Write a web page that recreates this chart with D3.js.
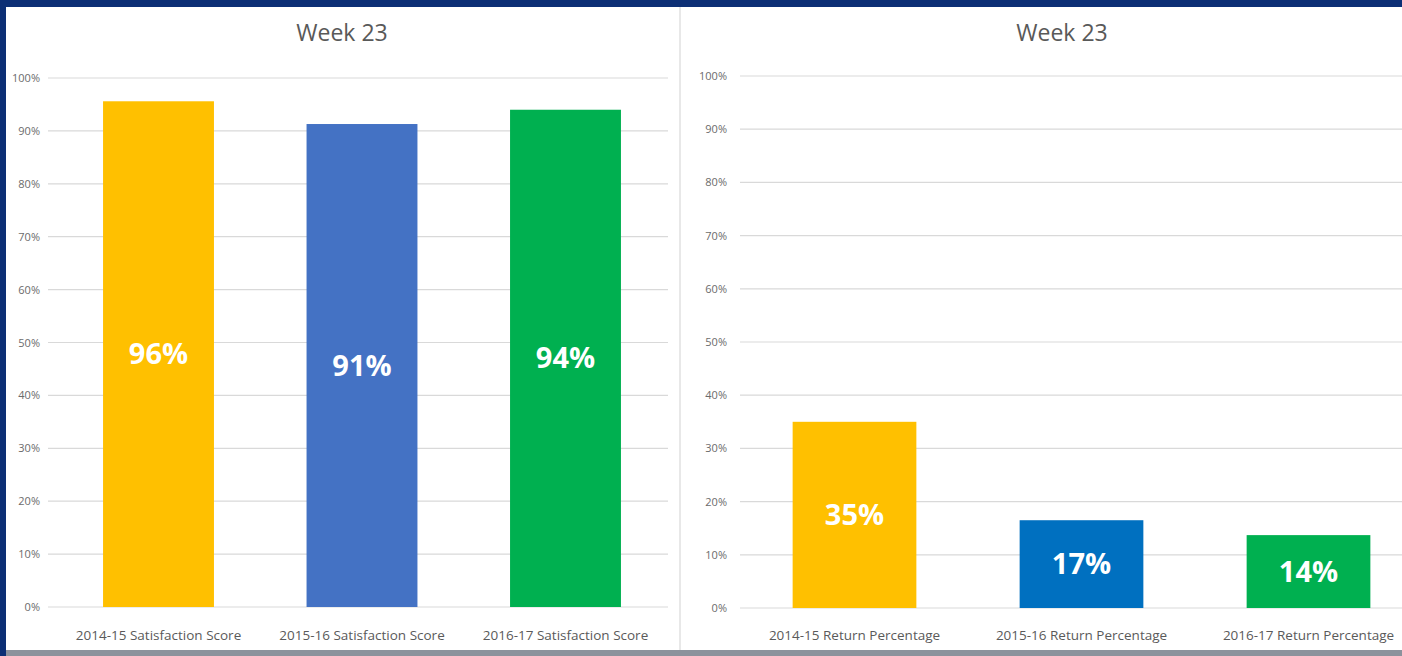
<html>
<head>
  <meta charset="utf-8">
  <script src="https://d3js.org/d3.v7.min.js"></script>
  <style>
    body { margin: 0; background: #0c2f75; }
    text { font-family: "Open Sans", sans-serif; }
  </style>
  <script>
    // chart data
    var chartTitle = "Week 23";
    var yTicks = [0, 10, 20, 30, 40, 50, 60, 70, 80, 90, 100];

    var satCategories = ["2014-15 Satisfaction Score", "2015-16 Satisfaction Score", "2016-17 Satisfaction Score"];
    var satValues = [95.6, 91.3, 94.0];
    var satLabels = ["96%", "91%", "94%"];
    var satColors = ["#ffc000", "#4472c4", "#00b050"];

    var retCategories = ["2014-15 Return Percentage", "2015-16 Return Percentage", "2016-17 Return Percentage"];
    var retValues = [35.0, 16.5, 13.7];
    var retLabels = ["35%", "17%", "14%"];
    var retColors = ["#ffc000", "#0070c0", "#00b050"];

    function drawChart( svg, o ) {
        var g = svg.append( "g" );
        var x = d3.scaleBand().domain( o.cats ).range( [o.x0, o.x1] ).paddingInner( 0.455 ).paddingOuter( 0.2275 );
        var y = d3.scaleLinear().domain( [0, 100] ).range( [o.y0, o.y1] );

        // gridlines
        g.selectAll( "line.grid" ).data( yTicks ).enter().append( "line" )
            .attr( "x1", o.gx0 ).attr( "x2", o.gx1 )
            .attr( "y1", d => y(d) ).attr( "y2", d => y(d) )
            .attr( "stroke", "#d9d9d9" ).attr( "stroke-width", 1.2 );

        g.selectAll( "text.yt" ).data( yTicks ).enter().append( "text" )
            .attr( "x", o.lx ).attr( "y", d => y(d) + 4 )
            .attr( "text-anchor", "end" ).attr( "font-size", 11 ).attr( "fill", "#6b6b6b" )
            .text( d => d + "%" );

        g.selectAll( "rect" ).data( o.vals ).enter().append( "rect" )
            .attr( "x", (d,i) => x(o.cats[i]) ).attr( "width", x.bandwidth() )
            .attr( "y", d => y(d) ).attr( "height", d => y(0) - y(d) )
            .attr( "fill", (d,i) => o.colors[i] );

        g.selectAll( "text.val" ).data( o.vals ).enter().append( "text" )
            .attr( "x", (d,i) => x(o.cats[i]) + x.bandwidth()/2 )
            .attr( "y", d => (y(d) + y(0))/2 + 10 )
            .attr( "text-anchor", "middle" ).attr( "font-size", 29 ).attr( "font-weight", "bold" )
            .attr( "fill", "#ffffff" )
            .text( (d,i) => o.labels[i] );

        g.selectAll( "text.cat" ).data( o.cats ).enter().append( "text" )
            .attr( "x", d => x(d) + x.bandwidth()/2 ).attr( "y", 640 )
            .attr( "text-anchor", "middle" ).attr( "font-size", 13.5 ).attr( "fill", "#5a5a5a" )
            .text( d => d );

        g.append( "text" ).attr( "x", o.tx ).attr( "y", 41 )
            .attr( "text-anchor", "middle" ).attr( "font-size", 23 ).attr( "fill", "#595959" )
            .text( chartTitle );
    }

    function makeCharts() {
        var svg = d3.select( "#ch" );
        svg.append( "rect" ).attr( "width", 1402 ).attr( "height", 656 ).attr( "fill", "#0c2f75" );
        svg.append( "rect" ).attr( "x", 6 ).attr( "y", 7 ).attr( "width", 1396 ).attr( "height", 643 ).attr( "fill", "#ffffff" );
        svg.append( "rect" ).attr( "x", 6 ).attr( "y", 650 ).attr( "width", 1396 ).attr( "height", 6 ).attr( "fill", "#8c929c" );
        svg.append( "line" ).attr( "x1", 680 ).attr( "x2", 680 ).attr( "y1", 7 ).attr( "y2", 650 )
            .attr( "stroke", "#e0e0e0" ).attr( "stroke-width", 1.5 );

        drawChart( svg, { cats: satCategories, vals: satValues, labels: satLabels, colors: satColors,
            x0: 56.75, x1: 667.25, y0: 607, y1: 78, gx0: 48, gx1: 668, lx: 40, tx: 342 } );
        drawChart( svg, { cats: retCategories, vals: retValues, labels: retLabels, colors: retColors,
            x0: 741, x1: 1422, y0: 608, y1: 76, gx0: 740, gx1: 1402, lx: 727, tx: 1062 } );
    }
  </script>
</head>
<body onload="makeCharts()">
  <svg id="ch" width="1402" height="656"></svg>
</body>
</html>
